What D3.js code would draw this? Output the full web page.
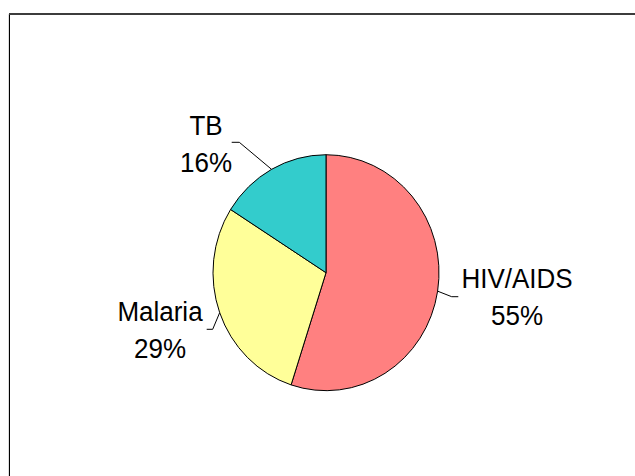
<!DOCTYPE html>
<html>
<head>
<meta charset="utf-8">
<script src="https://cdn.jsdelivr.net/npm/d3@7"></script>
<style>
  body { margin: 0; background: #fff; }
  svg { display: block; }
  text { font-family: "Liberation Sans", Arial, sans-serif; font-size: 26px; fill: #000; }
</style>
</head>
<body>
<div id="chart"></div>
<script>
// data
const diseases = ["HIV/AIDS", "Malaria", "TB"];
const shares = [55, 29, 16];
const colors = ["#FF8080", "#FFFF99", "#33CCCC"];

const W = 635, H = 476;
const cx = 326, cy = 272.7, r = 113, sy = 1.044; // pie is a little taller than wide

// label spot (end of leader line) and text block center, in px
const labelLayout = {
  "HIV/AIDS": { elbow: [451.7, 296.7], end: [458.3, 296.7], tx: 517, ty: 288, anchor: "middle" },
  "Malaria":  { elbow: [212.7, 329.3], end: [206.7, 329.3], tx: 160, ty: 321, anchor: "middle" },
  "TB":       { elbow: [239.3, 142.3], end: [231.7, 142.3], tx: 206, ty: 135, anchor: "middle" }
};

const svg = d3.select("#chart")
  .append("svg")
  .attr("width", W)
  .attr("height", H);

// frame (only top and left edges visible)
svg.append("line").attr("x1", 8.5).attr("y1", 14).attr("x2", 8.5).attr("y2", H)
  .attr("stroke", "#ddd").attr("stroke-width", 1);
svg.append("line").attr("x1", 9.5).attr("y1", 14).attr("x2", 9.5).attr("y2", H)
  .attr("stroke", "#000").attr("stroke-width", 1);
svg.append("line").attr("x1", 9).attr("y1", 14).attr("x2", 635).attr("y2", 14)
  .attr("stroke", "#3c3c3c").attr("stroke-width", 2);

const data = diseases.map((d, i) => ({ name: d, value: shares[i], color: colors[i] }));

const pie = d3.pie().sort(null).value(d => d.value);
const arcs = pie(data);

const arc = d3.arc().innerRadius(0).outerRadius(r);
const edge = d3.arc().innerRadius(r).outerRadius(r);

const g = svg.append("g")
  .attr("transform", `translate(${cx},${cy}) scale(1,${sy})`);

g.selectAll("path")
  .data(arcs)
  .join("path")
  .attr("d", arc)
  .attr("fill", d => d.data.color)
  .attr("stroke", "#000")
  .attr("stroke-width", 1)
  .attr("vector-effect", "non-scaling-stroke");

// leader lines
svg.append("g")
  .selectAll("polyline")
  .data(arcs)
  .join("polyline")
  .attr("points", d => {
    const [ex, ey] = edge.centroid(d);
    const L = labelLayout[d.data.name];
    return [[cx + ex, cy + ey * sy], L.elbow, L.end].map(p => p.join(",")).join(" ");
  })
  .attr("fill", "none")
  .attr("stroke", "#000")
  .attr("stroke-width", 1);

// labels
const total = d3.sum(shares);
const labels = svg.append("g")
  .selectAll("text")
  .data(arcs)
  .join("text")
  .attr("text-anchor", d => labelLayout[d.data.name].anchor)
  .attr("transform", d => {
    const L = labelLayout[d.data.name];
    return `translate(${L.tx},${L.ty}) scale(1,${sy})`;
  });

labels.append("tspan")
  .attr("x", 0).attr("y", 0)
  .text(d => d.data.name);
labels.append("tspan")
  .attr("x", 0).attr("y", 35)
  .text(d => Math.round(d.data.value / total * 100) + "%");
</script>
</body>
</html>
